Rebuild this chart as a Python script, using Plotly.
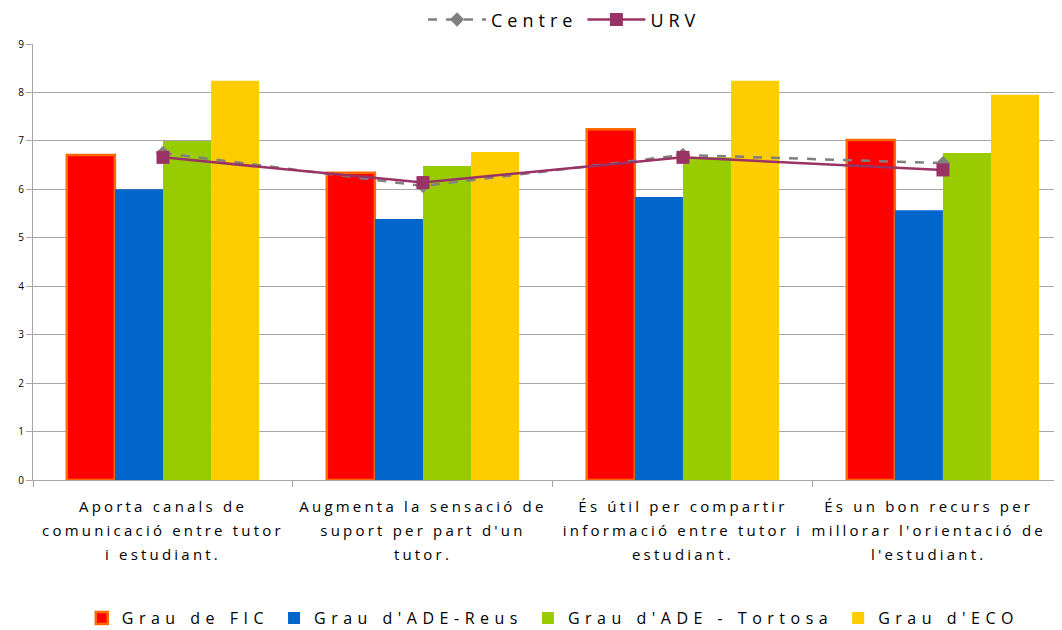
import plotly.graph_objects as go

categories = [
    "Aporta canals de<br>comunicació entre tutor<br>i estudiant.",
    "Augmenta la sensació de<br>suport per part d'un<br>tutor.",
    "És útil per compartir<br>informació entre tutor i<br>estudiant.",
    "És un bon recurs per<br>millorar l'orientació de<br>l'estudiant.",
]

fic = [6.71, 6.34, 7.24, 7.02]
ade_reus = [6.00, 5.39, 5.84, 5.57]
ade_tortosa = [7.00, 6.48, 6.66, 6.75]
eco = [8.24, 6.77, 8.24, 7.95]

centre = [6.75, 6.07, 6.71, 6.54]
urv = [6.66, 6.14, 6.66, 6.40]

font = "Open Sans, DejaVu Sans, sans-serif"

# the page body keeps its default 8px margin, so the figure is drawn 8px smaller
W, H = 1054, 622


def spaced(text, px, size=None, pad=0):
    # the original was rendered with wide letter spacing
    style = "letter-spacing:%spx" % px
    if size:
        style += ";font-size:%spx" % size
    lines = text.split("<br>")
    return "<br>".join('<span style="%s">%s%s</span>' % (style, l, "&nbsp;" * pad) for l in lines)


# last label sits pulled in from the right edge, as in the original
x_labels = [spaced(c, 3.2, 15, pad=4 if i == len(categories) - 1 else 0)
            for i, c in enumerate(categories)]

fig = go.Figure()

bar_specs = [
    ("Grau de FIC", fic, "#FF0000", dict(color="#FF6A00", width=2.5)),
    ("Grau d'ADE-Reus", ade_reus, "#0066CC", dict(width=0)),
    ("Grau d'ADE - Tortosa", ade_tortosa, "#99CC00", dict(width=0)),
    ("Grau d'ECO", eco, "#FFCC00", dict(width=0)),
]
for name, vals, color, border in bar_specs:
    fig.add_trace(go.Bar(
        x=x_labels, y=vals, name=spaced(name, 5.5), legend="legend2",
        marker=dict(color=color, line=border),
    ))

fig.add_trace(go.Scatter(
    x=x_labels, y=centre, name=spaced("Centre", 5), mode="lines+markers",
    line=dict(color="#808080", width=2.5, dash="dash"),
    marker=dict(symbol="diamond", size=11, color="#808080"),
))
fig.add_trace(go.Scatter(
    x=x_labels, y=urv, name=spaced("URV", 5), mode="lines+markers",
    line=dict(color="#993366", width=2.5),
    marker=dict(symbol="square", size=13, color="#993366"),
))

fig.update_layout(
    width=W,
    height=H,
    paper_bgcolor="white",
    plot_bgcolor="white",
    font=dict(family=font, color="#000000"),
    barmode="group",
    bargap=0.26,
    bargroupgap=0,
    margin=dict(l=25, r=0, t=36, b=150, autoexpand=False),
    xaxis=dict(
        range=[-0.5, 3.458],
        automargin=False,
        showline=True, linecolor="#A6A6A6", linewidth=1,
        ticks="outside", tickson="boundaries", ticklen=6, tickcolor="#A6A6A6",
        tickfont=dict(size=18.5, color="#000000"),
        tickangle=0,
        ticklabelstandoff=9,
        showgrid=False,
    ),
    yaxis=dict(
        range=[0, 9], dtick=1,
        automargin=False,
        showline=True, linecolor="#A6A6A6", linewidth=1,
        ticks="outside", ticklen=6, tickcolor="#A6A6A6",
        tickfont=dict(size=10, color="#000000"),
        gridcolor="#A6A6A6", gridwidth=1,
        zeroline=False,
    ),
    legend=dict(
        orientation="h", xref="container", x=0.528, xanchor="center",
        yref="container", y=0.981, yanchor="middle",
        font=dict(size=18), itemwidth=58,
    ),
    legend2=dict(
        orientation="h", xref="container", x=0.07, xanchor="left",
        yref="container", y=0.0193, yanchor="middle",
        font=dict(size=16), itemwidth=30,
    ),
)

fig.write_html("out.html")
